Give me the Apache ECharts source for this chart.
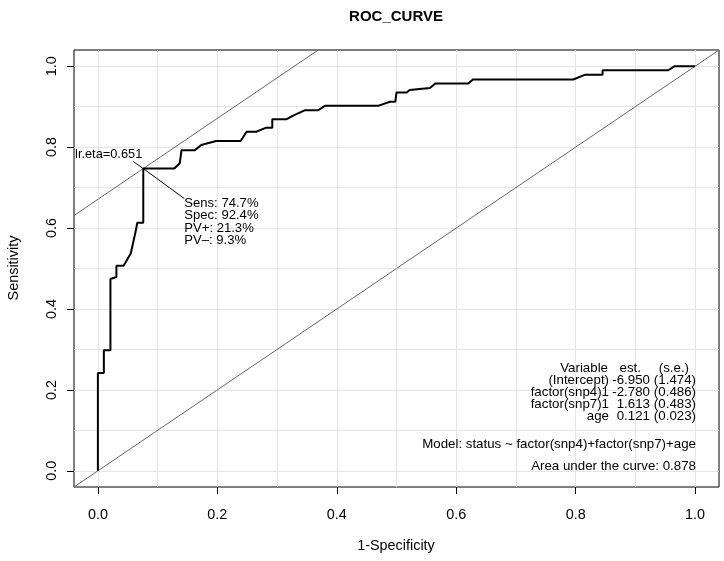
<!DOCTYPE html>
<html><head><meta charset="utf-8">
<script src="https://cdn.jsdelivr.net/npm/echarts@6/dist/echarts.min.js"></script>
<style>html,body{margin:0;padding:0;background:#fff}#c{width:724px;height:561px}</style>
</head><body><div id="c"></div>
<script>
// ---- data ----
const rocFpr  = [0, 0, 0.010, 0.010, 0.021, 0.021, 0.031, 0.031, 0.043, 0.055, 0.063, 0.066, 0.076, 0.076,
                 0.128, 0.137, 0.140, 0.162, 0.173, 0.198, 0.239, 0.249, 0.265, 0.282, 0.292, 0.292,
                 0.316, 0.327, 0.346, 0.369, 0.380, 0.469, 0.489, 0.498, 0.500, 0.517, 0.522, 0.556, 0.565,
                 0.620, 0.628, 0.796, 0.816, 0.845, 0.845, 0.955, 0.966, 1.0];
const rocSens = [0, 0.242, 0.242, 0.298, 0.298, 0.474, 0.479, 0.507, 0.507, 0.537, 0.590, 0.613, 0.613, 0.747,
                 0.747, 0.760, 0.792, 0.792, 0.805, 0.815, 0.815, 0.838, 0.838, 0.848, 0.848, 0.869,
                 0.869, 0.878, 0.891, 0.891, 0.902, 0.902, 0.912, 0.912, 0.935, 0.935, 0.941, 0.946, 0.957,
                 0.957, 0.967, 0.967, 0.979, 0.979, 0.990, 0.990, 1.0, 1.0];
const tickValues = [0, 0.2, 0.4, 0.6, 0.8, 1.0];
const gridValues = [0, 0.1, 0.2, 0.3, 0.4, 0.5, 0.6, 0.7, 0.8, 0.9, 1.0];
const optLabel = 'lr.eta=0.651';
const optSens = 0.747, optSpec = 0.924, optPVpos = 21.3, optPVneg = 9.3;
const modelVars = ['(Intercept)', 'factor(snp4)1', 'factor(snp7)1', 'age'];
const modelEst  = ['-6.950', '-2.780', '1.613', '0.121'];
const modelSE   = ['(1.474)', '(0.486)', '(0.483)', '(0.023)'];
const modelHeader = ['Variable', 'est.', '(s.e.)'];
const modelFormula = 'Model: status ~ factor(snp4)+factor(snp7)+age';
const aucValue = 0.878;
const chartTitle = 'ROC_CURVE', xName = '1-Specificity', yName = 'Sensitivity';

// ---- chart ----
const FONT = '"Liberation Sans", Arial, Helvetica, sans-serif';
const FS = 13.3;
const xMin = -0.04, xMax = 1.04;
const optFpr = +(1 - optSpec).toFixed(3);
const tangentB = optSens - optFpr;
const refLine = (b) => [[xMin, xMin + b], [xMax, xMax + b]];
const mxText = ['Sens: ' + (optSens * 100).toFixed(1) + '%',
                'Spec: ' + (optSpec * 100).toFixed(1) + '%',
                'PV+: ' + optPVpos.toFixed(1) + '%',
                'PV\u2013: ' + optPVneg.toFixed(1) + '%'].join('\n');

const chart = echarts.init(document.getElementById('c'), null, {renderer: 'canvas'});
const axisCommon = {
  type: 'value', min: xMin, max: xMax,
  splitLine: {show: false},
  axisLine: {show: false, onZero: false},
  axisTick: {show: true, customValues: tickValues, length: 7, inside: false, lineStyle: {color: '#000', width: 1}},
  axisLabel: {customValues: tickValues, formatter: v => (+v).toFixed(1), color: '#000', fontSize: 14.4, fontFamily: FONT}
};
const txt = (x, y, text, align, extra) => ({
  type: 'text', x, y, silent: true, z: 100,
  style: Object.assign({text, fill: '#000', fontSize: FS, fontFamily: FONT, textAlign: align, textVerticalAlign: 'middle'}, extra || {})
});

const graphics = [
  txt(396, 17, chartTitle, 'center', {fontSize: 15, fontWeight: 'bold'}),
  txt(396, 546, xName, 'center', {fontSize: 14.4}),
  Object.assign(txt(14, 268, yName, 'center', {fontSize: 14.4}), {rotation: Math.PI / 2}),
];
const tblX = [609, 650, 696], hdrX = [608, 641, 689], row0 = 368, rowH = 12.2;
modelHeader.forEach((h, i) => graphics.push(txt(hdrX[i], row0, h, 'right')));
modelVars.forEach((v, i) => {
  const y = row0 + (i + 1) * rowH;
  graphics.push(txt(tblX[0], y, v, 'right'));
  graphics.push(txt(tblX[1], y, modelEst[i], 'right'));
  graphics.push(txt(tblX[2], y, modelSE[i], 'right'));
});
graphics.push(txt(696, 444, modelFormula, 'right'));
graphics.push(txt(696, 466, 'Area under the curve: ' + aucValue.toFixed(3), 'right'));

chart.setOption({
  animation: false,
  backgroundColor: '#fff',
  grid: {left: 74, top: 50, width: 645, height: 437, show: true, borderColor: '#000', borderWidth: 1, backgroundColor: 'transparent'},
  xAxis: Object.assign({}, axisCommon, {position: 'bottom', axisLabel: Object.assign({}, axisCommon.axisLabel, {margin: 21})}),
  yAxis: Object.assign({}, axisCommon, {position: 'left', axisLabel: Object.assign({}, axisCommon.axisLabel, {margin: 15, rotate: 90})}),
  graphic: {elements: graphics},
  series: [
    {type: 'line', data: [], z: 1, silent: true,
     markLine: {silent: true, z: 0, symbol: 'none', label: {show: false}, animation: false,
       lineStyle: {color: '#e5e5e5', width: 1, type: 'solid'},
       data: gridValues.map(v => ({xAxis: v})).concat(gridValues.map(v => ({yAxis: v})))}},
    {type: 'line', data: refLine(0), z: 2, showSymbol: false, silent: true, clip: true,
     lineStyle: {color: '#666', width: 1}},
    {type: 'line', data: refLine(tangentB), z: 2, showSymbol: false, silent: true, clip: true,
     lineStyle: {color: '#666', width: 1}},
    {type: 'line', data: rocFpr.map((x, i) => [x, rocSens[i]]), z: 3, showSymbol: false, silent: true,
     lineStyle: {color: '#000', width: 2}},
    {type: 'custom', z: 10, silent: true, data: [[optFpr, optSens]],
     renderItem: (params, api) => {
       const p = api.coord([api.value(0), api.value(1)]);
       return {type: 'group', children: [
         {type: 'line', shape: {x1: p[0], y1: p[1], x2: p[0] - 10, y2: p[1] - 7}, style: {stroke: '#000', lineWidth: 1}},
         {type: 'line', shape: {x1: p[0], y1: p[1], x2: p[0] + 41, y2: p[1] + 30}, style: {stroke: '#000', lineWidth: 1}},
         {type: 'text', x: p[0] - 1, y: p[1] - 14, style: {text: optLabel, fill: '#000', fontSize: 12.8, fontFamily: FONT, textAlign: 'right', textVerticalAlign: 'middle'}},
         {type: 'text', x: p[0] + 41, y: p[1] + 28.4, style: {text: mxText, fill: '#000', fontSize: 13.1, fontFamily: FONT, lineHeight: 12.5, textAlign: 'left', textVerticalAlign: 'top'}}
       ]};
     }}
  ]
});
</script></body></html>
